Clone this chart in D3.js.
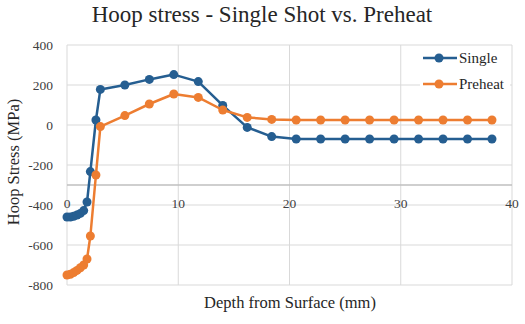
<!DOCTYPE html>
<html>
<head>
<meta charset="utf-8">
<script src="https://cdn.jsdelivr.net/npm/d3@7"></script>
<style>
  body { margin: 0; background: #fff; }
  svg text { font-family: "Liberation Serif" !important; }
</style>
</head>
<body>
<svg id="chart" width="525" height="324"></svg>
<script>
// ---- data ----
const depth = [0, 0.3, 0.6, 0.9, 1.2, 1.5, 1.8, 2.1, 2.6, 3.0, 5.2, 7.4, 9.6, 11.8, 14.0, 16.2, 18.4, 20.6, 22.8, 25.0, 27.2, 29.4, 31.6, 33.8, 36.0, 38.2];
const single = [-460, -460, -456, -450, -442, -428, -385, -233, 25, 178, 200, 228, 252, 217, 98, -12, -58, -70, -70, -70, -70, -70, -70, -70, -70, -70];
const preheat = [-750, -746, -738, -727, -714, -700, -670, -555, -250, -8, 47, 105, 155, 138, 75, 38, 28, 25, 25, 25, 25, 25, 25, 25, 25, 25];
const seriesNames = ["Single", "Preheat"];
const xTicks = [0, 10, 20, 30, 40];
const yTicks = [-800, -600, -400, -200, 0, 200, 400];
const xAxisCross = -300;
const titleText = "Hoop stress - Single Shot vs. Preheat";
const xTitle = "Depth from Surface (mm)";
const yTitle = "Hoop Stress (MPa)";

const colors = ["#255e91", "#ed7d31"];
const svg = d3.select("#chart");
const x = d3.scaleLinear().domain([0, 40]).range([67, 512]);
const y = d3.scaleLinear().domain([-800, 400]).range([285, 45]);

function serif(sel, size) {
  return sel.attr("font-family", "Liberation Serif")
    .style("font-family", "Liberation Serif", "important")
    .style("font-size", size + "px");
}

// gridlines
const grid = svg.append("g");
grid.selectAll(".hg").data(yTicks).enter().append("line")
  .attr("x1", x(0)).attr("x2", x(40))
  .attr("y1", d => y(d)).attr("y2", d => y(d))
  .attr("stroke", "#d9d9d9").attr("stroke-width", 1);
grid.selectAll(".vg").data(xTicks).enter().append("line")
  .attr("y1", y(-800)).attr("y2", y(400))
  .attr("x1", d => x(d)).attr("x2", d => x(d))
  .attr("stroke", "#d9d9d9").attr("stroke-width", 1);
// horizontal axis line crossing at -300
svg.append("line")
  .attr("x1", x(0)).attr("x2", x(40))
  .attr("y1", y(xAxisCross)).attr("y2", y(xAxisCross))
  .attr("stroke", "#bfbfbf").attr("stroke-width", 1.5);

// axis tick labels
serif(svg.append("g").selectAll("text").data(yTicks).enter().append("text"), 13.5)
  .attr("x", 53).attr("y", d => y(d)).attr("dy", "0.35em")
  .attr("text-anchor", "end").attr("fill", "#404040")
  .text(d => d);
serif(svg.append("g").selectAll("text").data(xTicks).enter().append("text"), 13.5)
  .attr("x", d => x(d)).attr("y", y(xAxisCross) + 18).attr("dy", "0.35em")
  .attr("text-anchor", "middle").attr("fill", "#404040")
  .text(d => d);

// series
const allSeries = [single, preheat];
const line = d3.line().x(d => x(d[0])).y(d => y(d[1]));
allSeries.forEach((vals, i) => {
  const pts = depth.map((d, j) => [d, vals[j]]);
  const g = svg.append("g");
  g.append("path").datum(pts).attr("d", line)
    .attr("fill", "none").attr("stroke", colors[i]).attr("stroke-width", 2.5)
    .attr("stroke-linejoin", "round");
  g.selectAll("circle").data(pts).enter().append("circle")
    .attr("cx", d => x(d[0])).attr("cy", d => y(d[1])).attr("r", 4.5)
    .attr("fill", colors[i]);
});

// legend
const lg = svg.append("g");
lg.append("rect").attr("x", 420).attr("y", 46).attr("width", 90).attr("height", 50).attr("fill", "#fff");
seriesNames.forEach((n, i) => {
  const ly = 58 + i * 26;
  lg.append("line").attr("x1", 423).attr("x2", 457).attr("y1", ly).attr("y2", ly)
    .attr("stroke", colors[i]).attr("stroke-width", 2.5);
  lg.append("circle").attr("cx", 439).attr("cy", ly).attr("r", 4.5).attr("fill", colors[i]);
  serif(lg.append("text"), 15).attr("x", 459).attr("y", ly).attr("dy", "0.35em")
    .attr("fill", "#262626").text(n);
});

// titles
serif(svg.append("text"), 23).attr("x", 262).attr("y", 22).attr("text-anchor", "middle")
  .attr("fill", "#262626").text(titleText);
serif(svg.append("text"), 16.5).attr("x", 290).attr("y", 308).attr("text-anchor", "middle")
  .attr("fill", "#262626").text(xTitle);
serif(svg.append("text"), 16.5).attr("transform", "translate(18.5,162) rotate(-90)")
  .attr("text-anchor", "middle").attr("fill", "#262626").text(yTitle);
</script>
</body>
</html>
